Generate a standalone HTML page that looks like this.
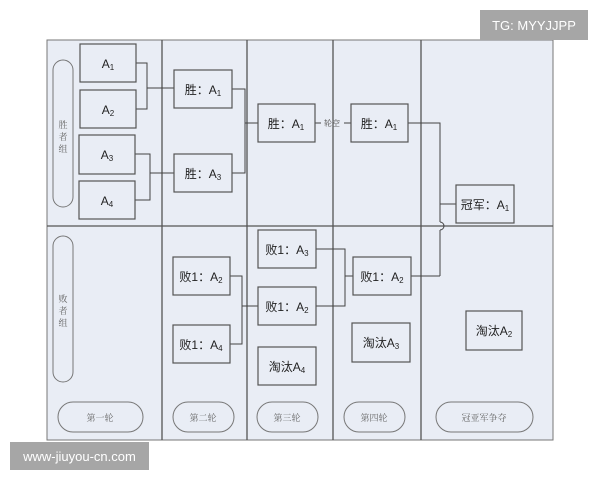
<!DOCTYPE html>
<html><head><meta charset="utf-8"><style>
body{margin:0;width:600px;height:480px;background:#fff;overflow:hidden;position:relative;font-family:"Liberation Sans","Noto Sans CJK SC",sans-serif}
svg{position:absolute;left:0;top:0}
.wm{position:absolute;background:#a6a6a6;color:#fff;font-size:13px;display:flex;align-items:center;justify-content:center}
</style></head><body>
<svg width="600" height="480" viewBox="0 0 600 480" font-family="Liberation Sans, Noto Sans CJK SC, sans-serif">
<rect x="47" y="40" width="506" height="400" fill="#e9edf5" stroke="#777" stroke-width="1"/>
<g stroke="#555" stroke-width="1.3" fill="none">
<line x1="47" y1="226" x2="553" y2="226"/>
<line x1="162" y1="40" x2="162" y2="440"/>
<line x1="247" y1="40" x2="247" y2="440"/>
<line x1="333" y1="40" x2="333" y2="440"/>
<line x1="421" y1="40" x2="421" y2="440"/>
</g>
<g fill="none" stroke="#777" stroke-width="1">
<rect x="53" y="60" width="20" height="147" rx="10"/>
<rect x="53" y="236" width="20" height="146" rx="10"/>
<rect x="58" y="402" width="85" height="30" rx="15"/>
<rect x="173" y="402" width="61" height="30" rx="15"/>
<rect x="257" y="402" width="61" height="30" rx="15"/>
<rect x="344" y="402" width="61" height="30" rx="15"/>
<rect x="436" y="402" width="97" height="30" rx="15"/>
</g>
<g font-size="9" fill="#666" text-anchor="middle" font-family="Liberation Serif, Noto Serif CJK SC, serif">
<text x="63" y="128">胜</text><text x="63" y="140">者</text><text x="63" y="152">组</text>
<text x="63" y="302">败</text><text x="63" y="314">者</text><text x="63" y="326">组</text>
<text x="100" y="421">第一轮</text><text x="203" y="421">第二轮</text><text x="287" y="421">第三轮</text><text x="374" y="421">第四轮</text><text x="484" y="421">冠亚军争夺</text>
</g>
<g stroke="#444" stroke-width="1" fill="none">
<polyline points="136,63 147,63 147,109 136,109"/><line x1="147" y1="88" x2="174" y2="88"/>
<polyline points="135,154 150,154 150,200 135,200"/><line x1="150" y1="173" x2="174" y2="173"/>
<polyline points="232,89 245,89 245,173 232,173"/><line x1="245" y1="123" x2="258" y2="123"/>
<line x1="315" y1="123" x2="321" y2="123"/><line x1="344" y1="123" x2="351" y2="123"/>
<polyline points="408,123 440,123 440,222"/><path d="M440,222 a4,4 0 0 1 0,8"/><line x1="440" y1="230" x2="440" y2="276"/>
<line x1="440" y1="204" x2="456" y2="204"/>
<polyline points="230,276 242,276 242,344 230,344"/><line x1="242" y1="306" x2="258" y2="306"/>
<polyline points="316,249 345,249 345,306 316,306"/><line x1="345" y1="276" x2="353" y2="276"/>
<line x1="411" y1="276" x2="440" y2="276"/>
</g>
<text x="332" y="126" font-size="8" fill="#666" text-anchor="middle">轮空</text>
<g fill="#e9edf5" stroke="#555" stroke-width="1.2">
<rect x="80" y="44" width="56" height="38"/><rect x="80" y="90" width="56" height="38"/>
<rect x="79" y="135" width="56" height="39"/><rect x="79" y="181" width="56" height="38"/>
<rect x="174" y="70" width="58" height="38"/><rect x="174" y="154" width="58" height="38"/>
<rect x="258" y="104" width="57" height="38"/><rect x="351" y="104" width="57" height="38"/>
<rect x="456" y="185" width="58" height="38"/>
<rect x="173" y="257" width="57" height="38"/><rect x="173" y="325" width="57" height="38"/>
<rect x="258" y="230" width="58" height="38"/><rect x="258" y="287" width="58" height="38"/><rect x="258" y="347" width="58" height="38"/>
<rect x="353" y="257" width="58" height="38"/><rect x="352" y="323" width="58" height="39"/>
<rect x="466" y="311" width="56" height="39"/>
</g>
<g font-size="12" fill="#222" text-anchor="middle">
<text x="108" y="68">A<tspan font-size="8" dy="2">1</tspan></text>
<text x="108" y="114">A<tspan font-size="8" dy="2">2</tspan></text>
<text x="107" y="159">A<tspan font-size="8" dy="2">3</tspan></text>
<text x="107" y="205">A<tspan font-size="8" dy="2">4</tspan></text>
<text x="203" y="94">胜：A<tspan font-size="8" dy="2">1</tspan></text>
<text x="203" y="178">胜：A<tspan font-size="8" dy="2">3</tspan></text>
<text x="286" y="128">胜：A<tspan font-size="8" dy="2">1</tspan></text>
<text x="379" y="128">胜：A<tspan font-size="8" dy="2">1</tspan></text>
<text x="485" y="209">冠军：A<tspan font-size="8" dy="2">1</tspan></text>
<text x="201" y="281">败1：A<tspan font-size="8" dy="2">2</tspan></text>
<text x="201" y="349">败1：A<tspan font-size="8" dy="2">4</tspan></text>
<text x="287" y="254">败1：A<tspan font-size="8" dy="2">3</tspan></text>
<text x="287" y="311">败1：A<tspan font-size="8" dy="2">2</tspan></text>
<text x="287" y="371">淘汰A<tspan font-size="8" dy="2">4</tspan></text>
<text x="382" y="281">败1：A<tspan font-size="8" dy="2">2</tspan></text>
<text x="381" y="347">淘汰A<tspan font-size="8" dy="2">3</tspan></text>
<text x="494" y="335">淘汰A<tspan font-size="8" dy="2">2</tspan></text>
</g>
</svg>
<div class="wm" style="left:480px;top:10px;width:108px;height:30px">TG: MYYJJPP</div>
<div class="wm" style="left:10px;top:442px;width:139px;height:28px">www-jiuyou-cn.com</div>
</body></html>
